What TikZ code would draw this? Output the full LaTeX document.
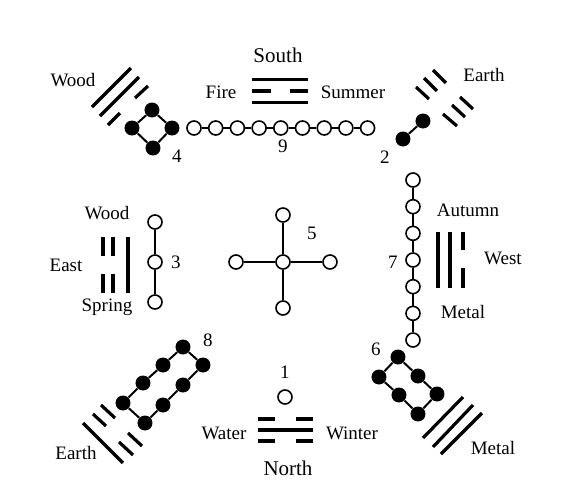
\documentclass[tikz,border=0pt]{standalone}
\usepackage{fontspec}
\setmainfont{Liberation Serif}
\usetikzlibrary{positioning, calc}

\begin{document}
\begin{tikzpicture}[
    x=0.5pt, y=-0.5pt,
    hollow/.style={circle, draw=black, line width=0.8pt, fill=white, inner sep=0pt, minimum size=7pt},
    blackdot/.style={circle, fill=black, inner sep=0pt, minimum size=7.5pt},
    link/.style={line width=1pt},
    yao/.style={line width=1.6pt},
    lbl/.style={inner sep=0pt, font=\fontsize{9.5}{11}\selectfont},
    dirlbl/.style={inner sep=0pt, font=\fontsize{10.5}{12}\selectfont}
]
    \useasboundingbox (0,0) rectangle (570,504);

    % South: fire
    \node (south) [dirlbl] at (278,55) {South};
    \node (fire) [lbl] at (221,92) {Fire};
    \node (summer) [lbl] at (353,92) {Summer};
    \draw[yao] (252,79.5) -- (308,79.5);
    \draw[yao] (252,91) -- (271,91) (290,91) -- (308,91);
    \draw[yao] (252,102.5) -- (308,102.5);

    % 9
    \foreach \i in {1,...,9}
        \node (c9-\i) [hollow] at ({194+21.7*(\i-1)},128) {};
    \foreach \i [remember=\i as \last (initially 1)] in {2,...,9}
        \draw[link] (c9-\last) -- (c9-\i);
    \node (n9) [lbl] at (283,146) {9};

    % South-east: wood, 4
    \node (wood1) [lbl] at (73,80) {Wood};
    \draw[yao] (92,107) -- (131,68);
    \draw[yao] (100,116) -- (139,77);
    \draw[yao] (108,125) -- (120,113) (135,98) -- (148,86);
    \node (d4-1) [blackdot] at (152,110) {};
    \node (d4-2) [blackdot] at (172,128) {};
    \node (d4-3) [blackdot] at (153,148) {};
    \node (d4-4) [blackdot] at (132,128) {};
    \draw[link] (d4-1) -- (d4-2) -- (d4-3) -- (d4-4) -- (d4-1);
    \node (n4) [lbl] at (177,156) {4};

    % South-west: earth, 2
    \node (earth1) [lbl] at (484,75) {Earth};
    \draw[yao] (433,70) -- (446,83) (460,97) -- (473,109);
    \draw[yao] (424,78) -- (437,91) (452,105) -- (465,117);
    \draw[yao] (416,87) -- (429,99) (443,114) -- (457,126);
    \node (d2-1) [blackdot] at (423,121) {};
    \node (d2-2) [blackdot] at (403,139) {};
    \draw[link] (d2-1) -- (d2-2);
    \node (n2) [lbl] at (385,157) {2};

    % East: wood, 3
    \node (wood2) [lbl] at (107,213) {Wood};
    \node (east) [lbl] at (66,265) {East};
    \node (spring) [lbl] at (107,307) {Spring};
    \draw[yao] (103,237) -- (103,256) (103,274) -- (103,293);
    \draw[yao] (113,237) -- (113,256) (113,274) -- (113,293);
    \draw[yao] (128,237) -- (128,293);
    \node (c3-1) [hollow] at (155,222) {};
    \node (c3-2) [hollow] at (155,262) {};
    \node (c3-3) [hollow] at (155,302) {};
    \draw[link] (c3-1) -- (c3-2) -- (c3-3);
    \node (n3) [lbl] at (176,262) {3};

    % Centre: 5
    \node (c5-0) [hollow] at (283,262) {};
    \node (c5-1) [hollow] at (283,215) {};
    \node (c5-2) [hollow] at (330,262) {};
    \node (c5-3) [hollow] at (283,308) {};
    \node (c5-4) [hollow] at (236,262) {};
    \foreach \i in {1,...,4}
        \draw[link] (c5-0) -- (c5-\i);
    \node (n5) [lbl] at (312,233) {5};

    % West: metal, 7
    \foreach \i in {1,...,7}
        \node (c7-\i) [hollow] at (413,{180+26.67*(\i-1)}) {};
    \foreach \i [remember=\i as \last (initially 1)] in {2,...,7}
        \draw[link] (c7-\last) -- (c7-\i);
    \node (n7) [lbl] at (393,262) {7};
    \node (autumn) [lbl] at (468,210) {Autumn};
    \node (west) [lbl] at (503,258) {West};
    \node (metal1) [lbl] at (463,312) {Metal};
    \draw[yao] (438,232) -- (438,288);
    \draw[yao] (450,232) -- (450,288);
    \draw[yao] (463,232) -- (463,250) (463,268) -- (463,288);

    % North-east: earth, 8
    \node (d8-1) [blackdot] at (183,347) {};
    \node (d8-2) [blackdot] at (203,365) {};
    \node (d8-3) [blackdot] at (183,385) {};
    \node (d8-4) [blackdot] at (163,405) {};
    \node (d8-5) [blackdot] at (145,423) {};
    \node (d8-6) [blackdot] at (123,403) {};
    \node (d8-7) [blackdot] at (143,383) {};
    \node (d8-8) [blackdot] at (163,365) {};
    \foreach \i [remember=\i as \last (initially 1)] in {2,...,8}
        \draw[link] (d8-\last) -- (d8-\i);
    \draw[link] (d8-8) -- (d8-1);
    \node (n8) [lbl] at (208,340) {8};
    \node (earth2) [lbl] at (76,453) {Earth};
    \draw[yao] (83,423) -- (123,463);
    \draw[yao] (93,414) -- (106,426) (119,442) -- (133,455);
    \draw[yao] (101,405) -- (115,418) (128,433) -- (142,446);

    % North: water, 1
    \node (c1) [hollow] at (285,397) {};
    \node (n1) [lbl] at (285,372) {1};
    \node (water) [lbl] at (224,433) {Water};
    \node (winter) [lbl] at (352,433) {Winter};
    \node (north) [dirlbl] at (288,468) {North};
    \draw[yao] (258,419) -- (275,419) (296,419) -- (313,419);
    \draw[yao] (258,430) -- (313,430);
    \draw[yao] (258,441) -- (275,441) (296,441) -- (313,441);

    % North-west: metal, 6
    \node (d6-1) [blackdot] at (398,357) {};
    \node (d6-2) [blackdot] at (418,376) {};
    \node (d6-3) [blackdot] at (437,394) {};
    \node (d6-4) [blackdot] at (418,414) {};
    \node (d6-5) [blackdot] at (399,395) {};
    \node (d6-6) [blackdot] at (379,377) {};
    \foreach \i [remember=\i as \last (initially 1)] in {2,...,6}
        \draw[link] (d6-\last) -- (d6-\i);
    \draw[link] (d6-6) -- (d6-1);
    \node (n6) [lbl] at (376,349) {6};
    \node (metal2) [lbl] at (493,448) {Metal};
    \draw[yao] (423,438) -- (463,397);
    \draw[yao] (433,447) -- (473,405);
    \draw[yao] (441,454) -- (482,413);
\end{tikzpicture}
\end{document}
